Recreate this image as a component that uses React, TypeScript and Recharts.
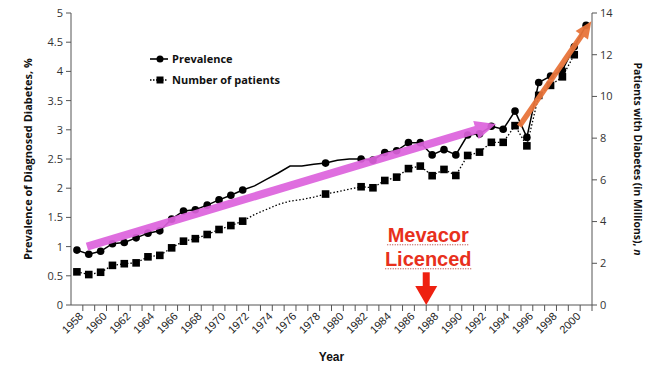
import React from "react";
import {
  LineChart,
  Line,
  XAxis,
  YAxis,
  ReferenceLine,
  Label,
} from "recharts";

// Years shown on the x axis (one category per year)
const years = [
  1958, 1959, 1960, 1961, 1962, 1963, 1964, 1965, 1966, 1967, 1968, 1969,
  1970, 1971, 1972, 1973, 1974, 1975, 1976, 1977, 1978, 1979, 1980, 1981,
  1982, 1983, 1984, 1985, 1986, 1987, 1988, 1989, 1990, 1991, 1992, 1993,
  1994, 1995, 1996, 1997, 1998, 1999, 2000, 2001,
];

// Prevalence of diagnosed diabetes, %
const prevalence = [
  0.94, 0.87, 0.92, 1.05, 1.07, 1.15, 1.23, 1.27, 1.47, 1.61, 1.63, 1.71,
  1.8, 1.88, 1.97, 2.04, 2.15, 2.26, 2.38, 2.38, 2.41, 2.43, 2.48, 2.5,
  2.5, 2.48, 2.61, 2.64, 2.78, 2.78, 2.57, 2.66, 2.57, 2.91, 2.93, 3.06,
  3.01, 3.32, 2.87, 3.81, 3.92, 4.02, 4.42, 4.79,
];

// Number of patients, millions
const patients = [
  1.59, 1.46, 1.57, 1.9, 1.98, 2.02, 2.31, 2.38, 2.74, 3.06, 3.18, 3.38,
  3.62, 3.81, 4.02, 4.34, 4.58, 4.82, 4.98, 5.06, 5.17, 5.32, 5.43, 5.55,
  5.67, 5.62, 5.97, 6.13, 6.54, 6.66, 6.2, 6.5, 6.21, 7.17, 7.33, 7.8,
  7.8, 8.6, 7.63, 10.05, 10.53, 10.94, 12.0, null,
];

// years drawn as plain line, without a marker
const unmarkedYears = [1973, 1974, 1975, 1976, 1977, 1978, 1980, 1981];

const leftTicks = [0, 0.5, 1, 1.5, 2, 2.5, 3, 3.5, 4, 4.5, 5];
const rightTicks = [0, 2, 4, 6, 8, 10, 12, 14];

// annotation arrows, in (year, prevalence %) units
const pinkTrend = [
  { x: 1958.85, y: 1.0 },
  { x: 1993.4, y: 3.1 },
];
const orangeTrend = [
  { x: 1995.36, y: 3.06 },
  { x: 2001.45, y: 4.86 },
];
const mevacorArrow = [
  { x: 1987.5, y: 0.56 },
  { x: 1987.5, y: 0 },
];
const mevacorText = ["Mevacor", "Licenced"];

const data = years.map((year, i) => ({
  year,
  prevalence: prevalence[i],
  patients: patients[i],
}));

const W = 650;
const H = 376;
const margin = { top: 13, right: 18, left: 21, bottom: 0 };
const leftAxisW = 50;
const rightAxisW = 40;
const plotW = W - margin.left - margin.right - leftAxisW - rightAxisW;
const band = plotW / years.length;

const tickFont = "'Open Sans', sans-serif";

const CircleDot = (p: any) => {
  const { cx, cy, payload, index } = p;
  if (cy == null || unmarkedYears.includes(payload.year)) return <g key={index} />;
  return <circle key={index} cx={cx} cy={cy} r={3.8} fill="#000" />;
};

const SquareDot = (p: any) => {
  const { cx, cy, payload, index } = p;
  if (cy == null || unmarkedYears.includes(payload.year)) return <g key={index} />;
  return <rect key={index} x={cx - 3.8} y={cy - 3.8} width={7.6} height={7.6} fill="#000" />;
};

const YearTick = (p: any) => {
  const { x, y, payload } = p;
  const yr = payload.value;
  const tx = x + band / 2;
  const lx = x + 7;
  const ly = y + 12;
  return (
    <g>
      <line x1={tx} x2={tx} y1={y} y2={y + 6} stroke="#555" />
      {yr % 2 === 0 && yr <= 2000 ? (
        <text
          x={lx}
          y={ly}
          transform={`rotate(-45 ${lx} ${ly})`}
          textAnchor="end"
          fontSize={11}
          fontFamily="'Liberation Sans', Arial, sans-serif"
          fill="#222"
        >
          {yr}
        </text>
      ) : null}
    </g>
  );
};

const makeArrow =
  (color: string, width: number, headLen: number, headW: number, opacity: number) =>
  (p: any) => {
    const x1 = Number(p.x1), y1 = Number(p.y1), x2 = Number(p.x2), y2 = Number(p.y2);
    const dx = x2 - x1, dy = y2 - y1;
    const len = Math.hypot(dx, dy) || 1;
    const ux = dx / len, uy = dy / len;
    const bx = x2 - ux * headLen, by = y2 - uy * headLen;
    const px = -uy * headW / 2, py = ux * headW / 2;
    return (
      <g opacity={opacity}>
        <line x1={x1} y1={y1} x2={bx + ux} y2={by + uy} stroke={color} strokeWidth={width} />
        <polygon points={`${x2},${y2} ${bx + px},${by + py} ${bx - px},${by - py}`} fill={color} />
      </g>
    );
  };

const pinkShape = makeArrow("#dd62dd", 8, 21, 19, 0.92);
const orangeShape = makeArrow("#e8743a", 5.5, 17, 15, 0.95);
const redArrow = makeArrow("#ee2010", 7, 19, 22, 1);

const mevacorShape = (p: any) => {
  const x = Number(p.x1) + 2;
  const y = Number(p.y1);
  return (
    <g>
      {redArrow(p)}
      {mevacorText.map((t, i) => {
        const by = y - 30 + i * 24;
        return (
          <g key={t}>
            <text
              x={x}
              y={by}
              textAnchor="middle"
              fontSize={20}
              fontWeight="bold"
              fontFamily="'Liberation Sans', Arial, sans-serif"
              fill="#e8301c"
            >
              {t}
            </text>
            <line
              x1={x - (i === 0 ? 41 : 43)}
              x2={x + (i === 0 ? 41 : 43)}
              y1={by + 2.5}
              y2={by + 2.5}
              stroke="#b0302a"
              strokeWidth={1}
              strokeDasharray="1 1.5"
            />
          </g>
        );
      })}
    </g>
  );
};

const LeftTitle = (p: any) => {
  const vb = p.viewBox || { x: 21, y: 13, width: 50, height: 292 };
  const cx = vb.x + 6;
  const cy = vb.y + vb.height / 2;
  return (
    <text
      x={cx}
      y={cy}
      transform={`rotate(-90 ${cx} ${cy})`}
      textAnchor="middle"
      dominantBaseline="central"
      fontSize={11}
      fontWeight="bold"
      fontFamily={tickFont}
      fill="#111"
    >
      Prevalence of Diagnosed Diabetes, %
    </text>
  );
};

const RightTitle = (p: any) => {
  const vb = p.viewBox || { x: 592, y: 13, width: 40, height: 292 };
  const cx = vb.x + vb.width + 6;
  const cy = vb.y + vb.height / 2;
  return (
    <text
      x={cx}
      y={cy}
      transform={`rotate(90 ${cx} ${cy})`}
      textAnchor="middle"
      dominantBaseline="central"
      fontSize={10.4}
      fontWeight="bold"
      fontFamily={tickFont}
      fill="#111"
    >
      Patients with Diabetes (in Millions), <tspan fontStyle="italic">n</tspan>
    </text>
  );
};

const legendItems = [
  { name: "Prevalence", marker: "circle", dash: undefined },
  { name: "Number of patients", marker: "square", dash: "1.5 1.5" },
];

const LegendBox = () => (
  <div style={{ position: "absolute", left: 150, top: 48 }}>
    {legendItems.map((it) => (
      <div key={it.name} style={{ display: "flex", alignItems: "center", height: 21 }}>
        <svg width={22} height={10} style={{ display: "block" }}>
          <line x1={0} x2={18} y1={5} y2={5} stroke="#000" strokeWidth={1.6} strokeDasharray={it.dash} />
          {it.marker === "circle" ? (
            <circle cx={10} cy={5} r={3.5} fill="#000" />
          ) : (
            <rect x={6.5} y={1.5} width={7} height={7} fill="#000" />
          )}
        </svg>
        <span
          style={{
            fontFamily: tickFont,
            fontWeight: "bold",
            fontSize: 11,
            color: "#111",
            whiteSpace: "nowrap",
          }}
        >
          {it.name}
        </span>
      </div>
    ))}
  </div>
);

export default function App() {
  return (
    <div style={{ position: "absolute", left: 0, top: 0, width: W, height: H, background: "#fff" }}>
      <LineChart width={W} height={H} data={data} margin={margin}>
        <XAxis
          dataKey="year"
          type="number"
          domain={[1957.5, 2001.5]}
          allowDataOverflow
          ticks={years}
          interval={0}
          height={H - 305}
          tickSize={0}
          tickMargin={0}
          tickLine={false}
          tick={<YearTick />}
          stroke="#555"
        >
          <Label
            value="Year"
            position="insideBottom"
            offset={15}
            style={{
              fontFamily: "'Liberation Sans', Arial, sans-serif",
              fontWeight: "bold",
              fontSize: 12,
              fill: "#111",
            }}
          />
        </XAxis>
        <YAxis
          yAxisId="left"
          domain={[0, 5]}
          ticks={leftTicks}
          interval={0}
          width={leftAxisW}
          tickSize={5}
          tickMargin={3}
          stroke="#555"
          tick={{ fontSize: 11, fontFamily: tickFont, fill: "#333" }}
          label={<LeftTitle />}
        />
        <YAxis
          yAxisId="right"
          orientation="right"
          domain={[0, 14]}
          ticks={rightTicks}
          interval={0}
          width={rightAxisW}
          tickSize={5}
          tickMargin={3}
          stroke="#555"
          tick={{ fontSize: 11, fontFamily: tickFont, fill: "#333" }}
          label={<RightTitle />}
        />
        <Line
          yAxisId="right"
          dataKey="patients"
          name="Number of patients"
          stroke="#000"
          strokeWidth={1.3}
          strokeDasharray="1.5 2"
          dot={SquareDot}
          activeDot={false}
          isAnimationActive={false}
        />
        <Line
          yAxisId="left"
          dataKey="prevalence"
          name="Prevalence"
          stroke="#000"
          strokeWidth={1.5}
          dot={CircleDot}
          activeDot={false}
          isAnimationActive={false}
        />
        <ReferenceLine yAxisId="left" segment={pinkTrend} ifOverflow="visible" shape={pinkShape} zIndex={1000} />
        <ReferenceLine yAxisId="left" segment={orangeTrend} ifOverflow="visible" shape={orangeShape} zIndex={1000} />
        <ReferenceLine yAxisId="left" segment={mevacorArrow} ifOverflow="visible" shape={mevacorShape} zIndex={1000} />
      </LineChart>
      <LegendBox />
    </div>
  );
}
